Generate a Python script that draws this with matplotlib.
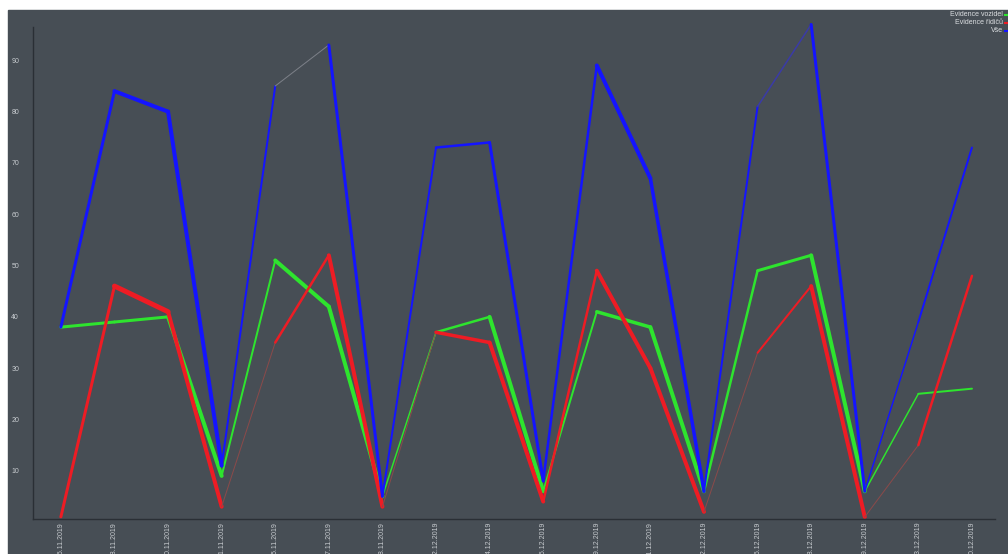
import matplotlib
matplotlib.use("Agg")
import matplotlib.pyplot as plt
import numpy as np
from matplotlib.collections import LineCollection
from matplotlib.lines import Line2D
from matplotlib.patches import Rectangle

# === DATA ===
dates = [
    "15.11.2019", "18.11.2019", "20.11.2019", "21.11.2019", "25.11.2019",
    "27.11.2019", "28.11.2019", "02.12.2019", "04.12.2019", "05.12.2019",
    "09.12.2019", "11.12.2019", "12.12.2019", "16.12.2019", "18.12.2019",
    "19.12.2019", "23.12.2019", "30.12.2019",
]
vozidel = [38, 39, 40, 9, 51, 42, 5, 37, 40, 6, 41, 38, 6, 49, 52, 6, 25, 26]
ridicu = [1, 46, 41, 3, 35, 52, 3, 37, 35, 4, 49, 30, 2, 33, 46, 1, 15, 48]
vse = [38, 84, 80, 11, 85, 93, 5, 73, 74, 8, 89, 67, 6, 81, 97, 6, 39, 73]
y_ticks = [10, 20, 30, 40, 50, 60, 70, 80, 90]
legend_labels = ["Evidence vozidel", "Evidence řidičů", "Vše"]

# === STYLES (per segment width in px / colour) ===
BG = "#474e55"
GREEN, RED, BLUE = "#2ee42e", "#ee1c24", "#1414ff"
PX = 0.72  # px -> pt
GREEN_W = [3, 3, 4, 2, 4, 4, 1.5, 2.5, 4, 2, 3.5, 4, 2.5, 3, 4, 1.5, 2]
RED_W = [3, 5, 4, 1, 2.5, 4, 1, 3.5, 4, 2.5, 4, 4, 1, 2, 4, 1, 2.5]
RED_C = [RED, RED, RED, "#8a4a4a", RED, RED, "#8a4a4a", RED, RED, RED,
         RED, RED, "#8a4a4a", RED, RED, "#8a4a4a", RED]
BLUE_W = [3, 4, 4, 2, 1, 3, 2, 2.5, 3, 2.5, 4, 3.5, 2, 1.5, 3, 1.5, 2]
BLUE_C = [BLUE, BLUE, BLUE, BLUE, "#7c8088", BLUE, BLUE, BLUE, BLUE, BLUE,
          BLUE, BLUE, BLUE, "#3a3aa8", BLUE, BLUE, BLUE]

fig = plt.figure(figsize=(10.08, 5.54), dpi=100, facecolor="white")
fig.add_artist(Rectangle((8 / 1008, 0), 1, (554 - 10) / 554,
                         transform=fig.transFigure, color=BG, zorder=0))

ax = fig.add_axes([33 / 1008, 35 / 554, (995 - 33) / 1008, (519 - 27) / 554])
ax.set_facecolor(BG)

x = np.arange(len(dates))


def segments(values):
    pts = np.column_stack([x, values])
    return np.stack([pts[:-1], pts[1:]], axis=1)


for vals, widths, colors in [
    (vozidel, GREEN_W, GREEN),
    (ridicu, RED_W, RED_C),
    (vse, BLUE_W, BLUE_C),
]:
    lc = LineCollection(segments(vals), linewidths=[w * PX for w in widths],
                        colors=colors, capstyle="round", joinstyle="round",
                        clip_on=False)
    ax.add_collection(lc)

ax.set_xlim(-0.52, 17.43)
ax.set_ylim(0.6, 96.5)

for side in ["top", "right"]:
    ax.spines[side].set_visible(False)
for side in ["left", "bottom"]:
    ax.spines[side].set_color("#2a2f35")
    ax.spines[side].set_linewidth(1)

ax.set_yticks(y_ticks)
ax.set_yticklabels([str(v) for v in y_ticks])
ax.set_xticks(x)
ax.set_xticklabels(dates, rotation=90)
ax.tick_params(axis="both", length=0, colors="#c8ccd0", labelsize=5)
ax.tick_params(axis="y", pad=10)
ax.tick_params(axis="x", pad=2)
for lbl in ax.get_xticklabels() + ax.get_yticklabels():
    lbl.set_fontfamily("Liberation Sans")

# legend (top right, labels right aligned)
for i, (name, col) in enumerate(zip(legend_labels, [GREEN, RED, BLUE])):
    yy = 1 - (15 + 8 * i) / 554
    fig.text(1003 / 1008, yy, name, ha="right", va="center", fontsize=5,
             color="#dcdfe2", family="Liberation Sans")
    fig.add_artist(Line2D([1005 / 1008, 1.0], [yy, yy], color=col,
                          linewidth=1.5, transform=fig.transFigure))

fig.savefig("out.png", dpi=100, facecolor="white")
